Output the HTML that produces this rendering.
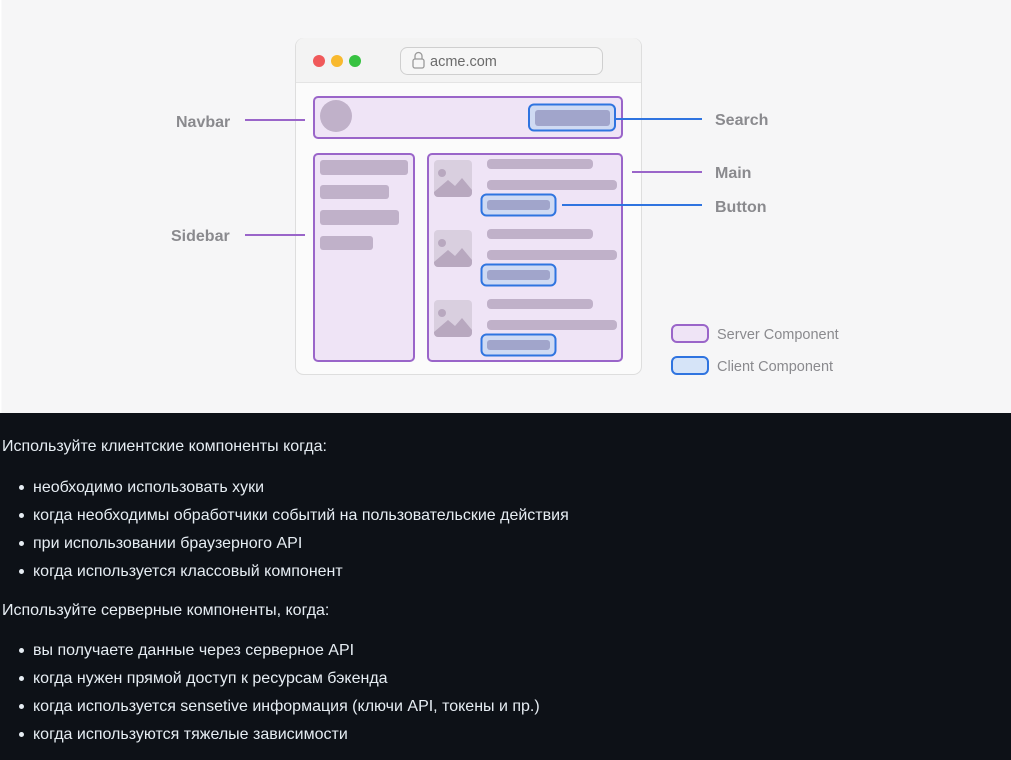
<!DOCTYPE html>
<html><head><meta charset="utf-8"><style>
body{margin:0;width:1011px;height:760px;background:#0d1117;overflow:hidden;font-family:"Liberation Sans",sans-serif}
svg{position:absolute;left:0;top:0}
.t{position:absolute;color:#e6edf3;font-size:16px;white-space:nowrap;line-height:18px}
.b{position:absolute;width:5px;height:5px;border-radius:50%;background:#e6edf3;left:19px}
</style></head><body>
<svg width="1011" height="413" viewBox="0 0 1011 413">
<rect x="0" y="0" width="1011" height="413" fill="#f6f6f7"/>
<rect x="0" y="0" width="1.5" height="413" fill="#fff"/>
<rect x="295.5" y="38.5" width="346" height="336" rx="8" fill="#fbfbfb" stroke="#dedede"/>
<path d="M296 82 V46 a8 8 0 0 1 8 -8 H633 a8 8 0 0 1 8 8 V82 Z" fill="#f3f3f3"/>
<line x1="296" y1="82.5" x2="641" y2="82.5" stroke="#e4e4e4"/>
<circle cx="319" cy="61" r="6" fill="#f0595a"/><circle cx="337" cy="61" r="6" fill="#f8b92e"/><circle cx="355" cy="61" r="6" fill="#37c241"/>
<rect x="400.5" y="47.5" width="202" height="27" rx="7" fill="#f6f6f6" stroke="#cfcfcf"/>
<rect x="413" y="59" width="11" height="9" rx="2" fill="none" stroke="#999" stroke-width="1.3"/>
<path d="M415 59 v-3 a3.5 3.5 0 0 1 7 0 v3" fill="none" stroke="#999" stroke-width="1.3"/>
<text x="430" y="66" font-size="14.5" fill="#6b6b6b" font-family="Liberation Sans">acme.com</text>
<g stroke="#9a65c9" stroke-width="2" fill="#efe4f6">
<rect x="314" y="97" width="308" height="41" rx="4"/>
<rect x="314" y="154" width="100" height="207" rx="4"/>
<rect x="428" y="154" width="194" height="207" rx="4"/>
</g>
<circle cx="336" cy="116" r="16" fill="#c0b1c9"/>
<g fill="#c0b1c9">
<rect x="320" y="160" width="88" height="15" rx="3"/><rect x="320" y="185" width="69" height="14" rx="3"/>
<rect x="320" y="210" width="79" height="15" rx="3"/><rect x="320" y="236" width="53" height="14" rx="3"/>
</g>
<g id="it">
<rect x="434" y="160" width="38" height="37" rx="4" fill="#d9cfdf"/>
<circle cx="442" cy="173" r="4" fill="#b8a8bf"/>
<path d="M434 192 L448 180 L455 186 L462 178 L472 190 V193 a4 4 0 0 1 -4 4 H438 a4 4 0 0 1 -4 -4Z" fill="#b8a8bf"/>
<rect x="487" y="159" width="106" height="10" rx="4" fill="#c0b1c9"/>
<rect x="487" y="180" width="130" height="10" rx="4" fill="#c0b1c9"/>
<rect x="481.5" y="194.5" width="74" height="21" rx="5" fill="#cfdaf3" stroke="#2f74e0" stroke-width="2"/>
<rect x="487" y="200" width="63" height="10" rx="3" fill="#a1a5cb"/>
</g>
<use href="#it" y="70"/><use href="#it" y="140"/>
<rect x="529" y="104.5" width="86" height="26" rx="5" fill="#cfdaf3" stroke="#2f74e0" stroke-width="2"/>
<rect x="535" y="110" width="75" height="16" rx="3" fill="#a1a5cb"/>
<g stroke-width="2">
<line x1="245" y1="120" x2="305" y2="120" stroke="#9a65c9"/>
<line x1="245" y1="235" x2="305" y2="235" stroke="#9a65c9"/>
<line x1="632" y1="172" x2="702" y2="172" stroke="#9a65c9"/>
<line x1="616" y1="119" x2="702" y2="119" stroke="#2f74e0"/>
<line x1="562" y1="205" x2="702" y2="205" stroke="#2f74e0"/>
</g>
<g font-family="Liberation Sans" font-weight="bold" font-size="16" fill="#8a8a8e">
<text x="176" y="127">Navbar</text><text x="171" y="241">Sidebar</text>
<text x="715" y="125">Search</text><text x="715" y="178">Main</text><text x="715" y="212">Button</text>
</g>
<rect x="672" y="325" width="36" height="17" rx="5" fill="#efe4f6" stroke="#9a65c9" stroke-width="2"/>
<rect x="672" y="357" width="36" height="17" rx="5" fill="#d6e4f8" stroke="#2f74e0" stroke-width="2"/>
<g font-family="Liberation Sans" font-size="14.5" fill="#8a8a8e">
<text x="717" y="339">Server Component</text><text x="717" y="371">Client Component</text>
</g>
</svg>
<div class="t" style="left:2px;top:438px">Используйте клиентские компоненты когда:</div>
<div class="b" style="top:485px"></div><div class="t" style="left:33px;top:479px">необходимо использовать хуки</div>
<div class="b" style="top:513px"></div><div class="t" style="left:33px;top:507px">когда необходимы обработчики событий на пользовательские действия</div>
<div class="b" style="top:541px"></div><div class="t" style="left:33px;top:535px">при использовании браузерного API</div>
<div class="b" style="top:569px"></div><div class="t" style="left:33px;top:563px">когда используется классовый компонент</div>
<div class="t" style="left:2px;top:602px">Используйте серверные компоненты, когда:</div>
<div class="b" style="top:648px"></div><div class="t" style="left:33px;top:642px">вы получаете данные через серверное API</div>
<div class="b" style="top:676px"></div><div class="t" style="left:33px;top:670px">когда нужен прямой доступ к ресурсам бэкенда</div>
<div class="b" style="top:704px"></div><div class="t" style="left:33px;top:698px">когда используется sensetive информация (ключи API, токены и пр.)</div>
<div class="b" style="top:732px"></div><div class="t" style="left:33px;top:726px">когда используются тяжелые зависимости</div>
</body></html>
